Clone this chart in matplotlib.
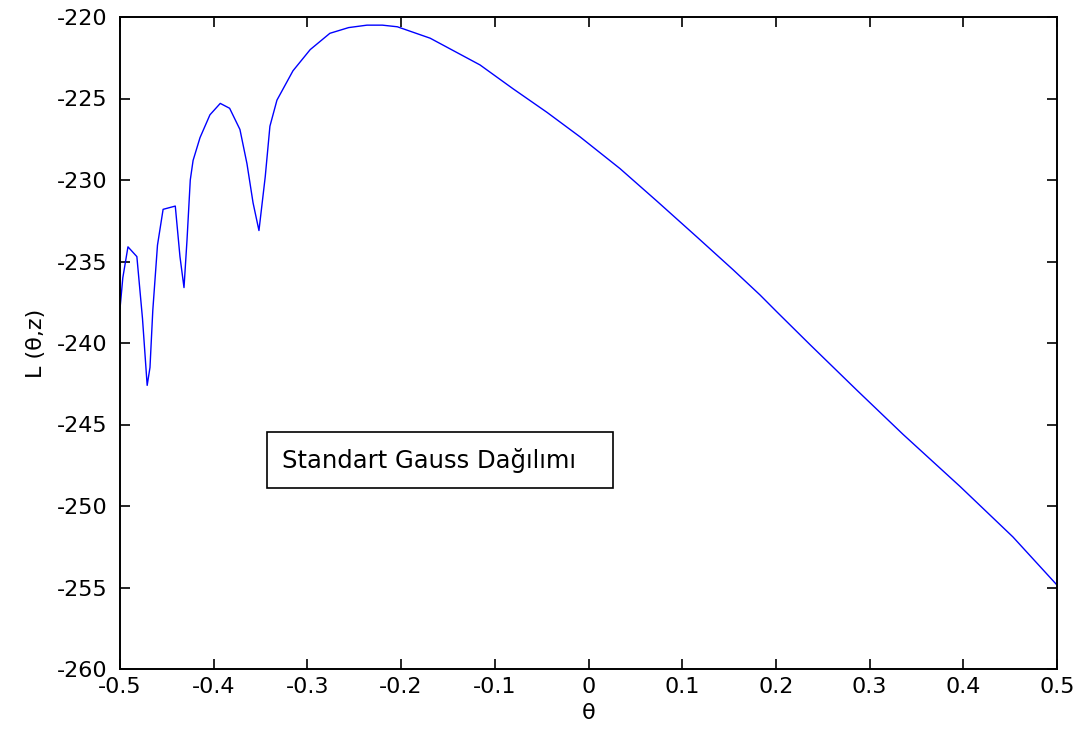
import matplotlib.pyplot as plt
from matplotlib.patches import Rectangle

# theta values and log-likelihood
theta = [-0.5, -0.497, -0.4915, -0.482, -0.476, -0.471, -0.468, -0.465, -0.46,
         -0.454, -0.441, -0.436, -0.4317, -0.4285, -0.425, -0.422, -0.4146,
         -0.404, -0.393, -0.383, -0.372, -0.3645, -0.358, -0.3517, -0.345,
         -0.340, -0.3325, -0.3154, -0.297, -0.276, -0.256, -0.2364, -0.22,
         -0.204, -0.169, -0.1158, -0.0806, -0.0443, -0.0091, 0.0336, 0.0731,
         0.1158, 0.1542, 0.183, 0.2012, 0.2364, 0.2865, 0.3356, 0.3965,
         0.453, 0.5]
L = [-237.9, -236.0, -234.1, -234.7, -238.5, -242.6, -241.5, -238.0, -234.0,
     -231.8, -231.6, -234.7, -236.6, -233.7, -230.0, -228.8, -227.4,
     -226.0, -225.3, -225.6, -226.9, -229.0, -231.4, -233.1, -229.8,
     -226.7, -225.1, -223.3, -222.0, -221.0, -220.65, -220.5, -220.5,
     -220.6, -221.3, -222.94, -224.4, -225.85, -227.35, -229.3, -231.3,
     -233.5, -235.5, -237.05, -238.1, -240.1, -242.9, -245.6, -248.8,
     -251.9, -254.85]

xticks = [-0.5, -0.4, -0.3, -0.2, -0.1, 0, 0.1, 0.2, 0.3, 0.4, 0.5]
xticklabels = ['-0.5', '-0.4', '-0.3', '-0.2', '-0.1', '0', '0.1', '0.2', '0.3', '0.4', '0.5']
yticks = [-260, -255, -250, -245, -240, -235, -230, -225, -220]

plt.rcParams['font.family'] = ['DejaVu Sans']
plt.rcParams['axes.unicode_minus'] = False

fig = plt.figure(figsize=(10.83, 7.42), dpi=100)
ax = fig.add_axes([120/1083, 1 - 669/742, 937/1083, 652/742])

ax.plot(theta, L, color='#0000ff', linewidth=1.0)

ax.set_xlim(-0.5, 0.5)
ax.set_ylim(-260, -220)
ax.set_xticks(xticks)
ax.set_xticklabels(xticklabels)
ax.set_yticks(yticks)
ax.tick_params(direction='in', top=True, right=True, length=7, width=1.2,
               labelsize=16)
ax.tick_params(axis='x', pad=6)
ax.tick_params(axis='y', pad=9)
for s in ax.spines.values():
    s.set_linewidth(1.4)

ax.set_xlabel('θ', fontsize=16, labelpad=4)
ax.set_ylabel('L (θ,z)', fontsize=16, labelpad=8)

# annotation box
ax.add_patch(Rectangle((-0.343, -248.9), 0.369, 3.45, fill=False,
                       edgecolor='black', linewidth=1.2))
ax.text(-0.327, -247.2, 'Standart Gauss Dağılımı', fontsize=17.5,
        va='center', ha='left')

fig.savefig('out.png', dpi=100)
